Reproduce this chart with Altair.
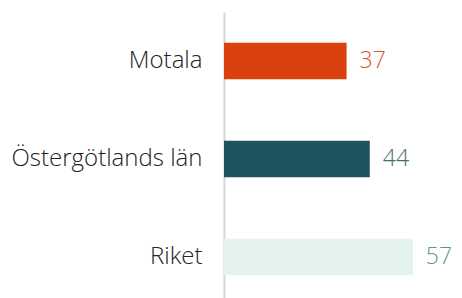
import altair as alt
import pandas as pd

categories = ["Motala", "Östergötlands län", "Riket"]
values = [37, 44, 57]
bar_colors = ["#D9410F", "#1F545E", "#E5F3F0"]
label_colors = ["#E0542A", "#4A6C72", "#5A9494"]

df = pd.DataFrame({"cat": categories, "val": values,
                   "bc": bar_colors, "lc": label_colors})

FONT = "Open Sans"

y = alt.Y("cat:N", sort=categories, title=None,
          scale=alt.Scale(paddingInner=0.63, paddingOuter=0.315),
          axis=alt.Axis(ticks=False, labelFont=FONT, labelFontSize=24,
                        labelFontWeight=300, labelColor="#222222",
                        labelPadding=22, labelLimit=0,
                        domainColor="#D6D6D6", domainWidth=2, grid=False))
x = alt.X("val:Q", scale=alt.Scale(domain=[0, 67]), axis=None)

bars = alt.Chart(df).mark_bar().encode(
    x=x, y=y, color=alt.Color("bc:N", scale=None))

text = alt.Chart(df).mark_text(align="left", dx=13, font=FONT, fontSize=23,
                               fontWeight=300).encode(
    x=x, y=alt.Y("cat:N", sort=categories), text="val:Q",
    color=alt.Color("lc:N", scale=None))

chart = (bars + text).properties(
    width=222, height=294,
    autosize=alt.AutoSizeParams(type="none"),
    padding={"left": 216, "top": 4, "right": 8, "bottom": 0},
).configure_view(stroke=None)

chart.save("out.html", embed_options={"renderer": "svg", "actions": False})
